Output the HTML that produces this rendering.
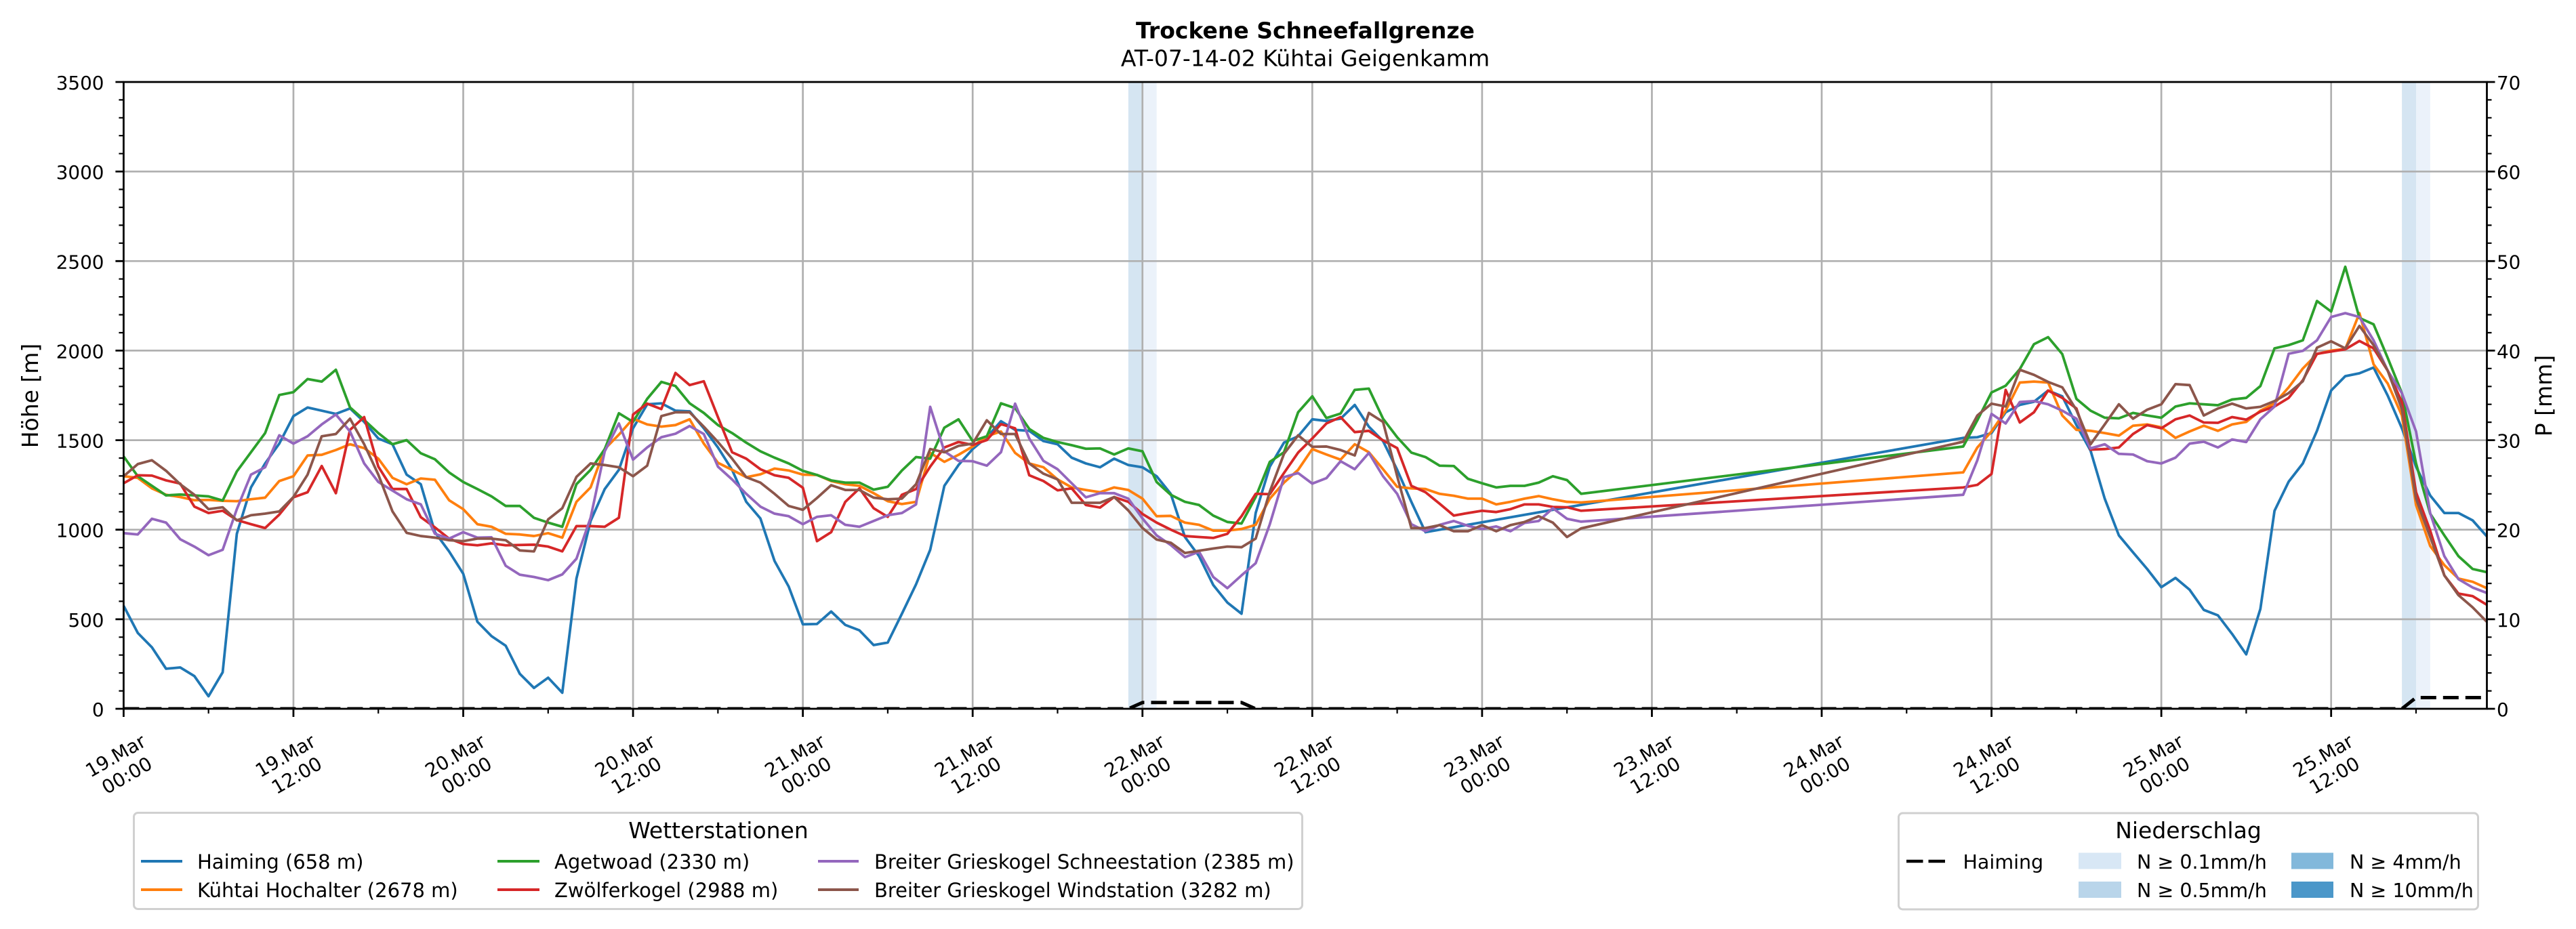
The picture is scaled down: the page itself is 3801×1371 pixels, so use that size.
<!DOCTYPE html>
<html><head><meta charset="utf-8">
<style>
html,body{margin:0;padding:0;background:#fff;width:3801px;height:1371px;overflow:hidden}
svg{display:block}
.d polyline{vector-effect:non-scaling-stroke;fill:none;stroke-width:3.8;stroke-linejoin:round}
text{font-family:"DejaVu Sans","Liberation Sans",sans-serif;fill:#000}
</style></head>
<body>
<svg xmlns="http://www.w3.org/2000/svg" width="3801" height="1371" viewBox="0 0 3801 1371">
<defs><clipPath id="pc"><rect x="182.4" y="121" width="3487.1" height="925"/></clipPath></defs>
<rect x="0" y="0" width="3801" height="1371" fill="#fff"/>

<!-- precipitation bands -->
<rect x="1664.9" y="121" width="20.9" height="925" fill="#d5e5f2"/>
<rect x="1685.8" y="121" width="20.9" height="925" fill="#ebf2fa"/>
<rect x="3544.1" y="121" width="20.9" height="925" fill="#d5e5f2"/>
<rect x="3565.0" y="121" width="20.9" height="925" fill="#ebf2fa"/>

<!-- grid -->
<g stroke="#b0b0b0" stroke-width="2.7" fill="none">
<path d="M182.4 913.9H3669.5M182.4 781.7H3669.5M182.4 649.6H3669.5M182.4 517.4H3669.5M182.4 385.3H3669.5M182.4 253.1H3669.5"/>
<path d="M432.96 121V1046M683.52 121V1046M934.08 121V1046M1184.64 121V1046M1435.2 121V1046M1685.76 121V1046M1936.32 121V1046M2186.88 121V1046M2437.44 121V1046M2688 121V1046M2938.56 121V1046M3189.12 121V1046M3439.68 121V1046"/>
</g>

<!-- data lines -->
<g class="d" transform="translate(182.4,330) scale(20.88,0.47192)">
<polyline stroke="#1f77b4" points="0,1195 1,1280 2,1325 3,1392 4,1388 5,1415 6,1478 7,1403 8,970 9,825 10,750 11,688 12,602 13,575 14,585 15,595 16,578 17,620 18,672 19,690 20,785 21,815 22,965 23,1025 24,1095 25,1245 26,1290 27,1320 28,1408 29,1452 30,1420 31,1467 32,1110 33,930 34,830 35,770 36,640 37,565 38,562 39,585 40,587 41,640 42,700 43,770 44,870 45,922 46,1055 47,1135 48,1253 49,1252 50,1213 51,1255 52,1272 53,1318 54,1310 55,1220 56,1128 57,1020 58,820 59,755 60,705 61,668 62,618 63,645 64,648 65,680 66,690 67,732 68,750 69,762 70,735 71,755 72,762 73,790 74,845 75,980 76,1040 77,1130 78,1185 79,1220 80,905 81,760 82,685 83,665 84,612 85,617 86,610 87,567 88,635 89,680 90,770 91,870 92,965 130,670 131,668 132,655 133,590 134,567 135,557 136,522 137,540 138,630 139,710 140,860 141,975 142,1028 143,1080 144,1137 145,1108 146,1145 147,1208 148,1225 149,1283 150,1347 151,1205 152,898 153,807 154,750 155,648 156,522 157,477 158,468 159,450 160,538 161,640 162,760 163,850 164,905 165,905 166,928 167,978"/>
<polyline stroke="#ff7f0e" points="0,790 1,795 2,828 3,848 4,855 5,865 6,864 7,867 8,868 9,862 10,857 11,805 12,790 13,725 14,723 15,708 16,690 17,702 18,735 19,795 20,815 21,797 22,801 23,865 24,893 25,940 26,948 27,970 28,972 29,977 30,968 31,982 32,870 33,825 34,705 35,660 36,610 37,628 38,635 39,630 40,612 41,688 42,748 43,770 44,793 45,784 46,766 47,772 48,785 49,786 50,805 51,815 52,820 53,843 54,868 55,877 56,870 57,717 58,745 59,723 60,697 61,665 62,650 63,717 64,750 65,762 66,800 67,825 68,833 69,840 70,825 71,833 72,860 73,915 74,914 75,935 76,942 77,960 78,960 79,955 80,942 81,860 82,810 83,770 84,705 85,722 86,738 87,690 88,715 89,768 90,823 91,828 92,830 93,845 94,851 95,860 96,860 97,878 98,870 99,860 100,852 101,862 102,870 103,872 130,778 131,700 132,650 133,585 134,497 135,494 136,497 137,600 138,645 139,648 140,655 141,663 142,632 143,628 144,637 145,670 146,650 147,632 148,648 149,628 150,620 151,585 152,562 153,512 154,453 155,408 156,397 157,392 158,280 159,440 160,500 161,600 162,880 163,1008 164,1068 165,1110 166,1120 167,1140"/>
<polyline stroke="#2ca02c" points="0,728 1,790 2,820 3,850 4,847 5,850 6,853 7,866 8,775 9,715 10,655 11,536 12,527 13,486 14,494 15,457 16,575 17,614 18,655 19,690 20,677 21,718 22,737 23,778 24,808 25,830 26,853 27,883 28,883 29,920 30,935 31,948 32,815 33,770 34,705 35,593 36,620 37,548 38,495 39,508 40,562 41,592 42,630 43,655 44,685 45,712 46,732 47,750 48,773 49,786 50,803 51,810 52,810 53,832 54,823 55,772 56,730 57,735 58,638 59,612 60,680 61,665 62,562 63,577 64,642 65,670 66,683 67,693 68,704 69,703 70,722 71,703 72,712 73,808 74,848 75,870 76,880 77,913 78,933 79,938 80,855 81,745 82,715 83,590 84,540 85,608 86,594 87,520 88,516 89,610 90,668 91,716 92,730 93,757 94,758 95,798 96,812 97,825 98,820 99,820 100,810 101,790 102,802 103,845 130,697 131,615 132,528 133,507 134,455 135,377 136,355 137,408 138,548 139,585 140,607 141,609 142,592 143,600 144,607 145,572 146,562 147,565 148,568 149,550 150,545 151,508 152,390 153,380 154,365 155,242 156,275 157,135 158,295 159,315 160,420 161,530 162,750 163,907 164,975 165,1040 166,1080 167,1090"/>
<polyline stroke="#d62728" points="0,812 1,787 2,788 3,803 4,813 5,885 6,905 7,898 8,927 9,940 10,952 11,910 12,856 13,840 14,758 15,843 16,645 17,605 18,760 19,830 20,830 21,918 22,950 23,985 24,1002 25,1006 26,1000 27,1006 28,1005 29,1004 30,1010 31,1025 32,946 33,946 34,948 35,920 36,597 37,563 38,580 39,467 40,505 41,493 42,605 43,715 44,735 45,768 46,787 47,795 48,826 49,993 50,965 51,870 52,828 53,890 54,917 55,848 56,830 57,760 58,700 59,683 60,692 61,677 62,627 63,640 64,787 65,805 66,834 67,828 68,880 69,888 70,855 71,870 72,908 73,935 74,957 75,977 76,980 77,983 78,970 79,915 80,845 81,846 82,780 83,716 84,672 85,625 86,605 87,652 88,648 89,678 90,702 91,820 92,840 93,876 94,913 95,905 96,898 97,902 98,893 99,878 100,878 101,886 102,887 103,898 130,825 131,817 132,783 133,520 134,622 135,590 136,522 137,545 138,578 139,707 140,705 141,700 142,658 143,630 144,640 145,612 146,600 147,622 148,623 149,605 150,613 151,588 152,572 153,545 154,490 155,407 156,400 157,393 158,367 159,390 160,460 161,558 162,840 163,960 164,1100 165,1157 166,1165 167,1192"/>
<polyline stroke="#9467bd" points="0,968 1,972 2,923 3,935 4,987 5,1010 6,1037 7,1020 8,893 9,785 10,762 11,662 12,688 13,665 14,628 15,597 16,650 17,750 18,808 19,835 20,862 21,878 22,970 23,985 24,965 25,982 26,981 27,1070 28,1098 29,1105 30,1115 31,1097 32,1048 33,920 34,712 35,625 36,738 37,700 38,668 39,657 40,633 41,658 42,760 43,800 44,845 45,885 46,907 47,915 48,940 49,917 50,912 51,942 52,948 53,930 54,912 55,905 56,878 57,573 58,712 59,742 60,743 61,757 62,715 63,563 64,672 65,742 66,768 67,812 68,856 69,843 70,843 71,860 72,922 73,975 74,1005 75,1043 76,1026 77,1105 78,1140 79,1100 80,1062 81,940 82,793 83,780 84,813 85,796 86,743 87,768 88,717 89,790 90,845 91,940 92,962 93,942 94,930 95,945 96,955 97,947 98,962 99,936 100,930 101,890 102,923 103,932 130,848 131,740 132,595 133,625 134,558 135,555 136,565 137,585 138,610 139,703 140,690 141,720 142,722 143,743 144,750 145,732 146,688 147,682 148,700 149,675 150,683 151,612 152,572 153,407 154,398 155,365 156,292 157,280 158,292 159,365 160,460 161,530 162,650 163,905 164,1040 165,1112 166,1138 167,1155"/>
<polyline stroke="#8c564b" points="0,790 1,752 2,740 3,773 4,815 5,848 6,893 7,887 8,928 9,912 10,907 11,900 12,855 13,785 14,665 15,658 16,610 17,690 18,785 19,900 20,967 21,977 22,982 23,990 24,993 25,985 26,985 27,990 28,1022 29,1025 30,925 31,890 32,792 33,750 34,755 35,762 36,790 37,757 38,602 39,590 40,590 41,635 42,683 43,735 44,793 45,810 46,845 47,883 48,895 49,858 50,818 51,833 52,833 53,857 54,862 55,860 56,815 57,705 58,715 59,695 60,688 61,615 62,658 63,658 64,750 65,782 66,800 67,873 68,873 69,873 70,855 71,897 72,952 73,988 74,998 75,1030 76,1023 77,1016 78,1010 79,1012 80,985 81,838 82,720 83,662 84,698 85,697 86,708 87,725 88,592 89,620 90,790 91,952 92,952 93,943 94,962 95,962 96,943 97,962 98,943 99,933 100,915 101,935 102,980 103,953 130,682 131,600 132,563 133,572 134,457 135,473 136,495 137,512 138,583 139,690 140,628 141,565 142,610 143,582 144,565 145,502 146,505 147,600 148,578 149,563 150,578 151,573 152,555 153,530 154,493 155,388 156,368 157,390 158,320 159,380 160,460 161,580 162,860 163,980 164,1100 165,1162 166,1200 167,1245"/>
</g>

<!-- Haiming precipitation (dashed) -->
<path clip-path="url(#pc)" d="M182.4 1046L1664.9 1046L1685.8 1036.8L1831.9 1036.8L1852.8 1046L3544.1 1046L3565 1029.5L3669.4 1029.5" fill="none" stroke="#000" stroke-width="5" stroke-dasharray="23 10"/>

<!-- spines -->
<rect x="182.4" y="121" width="3487.1" height="925" fill="none" stroke="#000" stroke-width="2.8"/>

<!-- ticks -->
<g stroke="#000" stroke-width="2.8" fill="none">
<path d="M170.4 1046h12M170.4 913.9h12M170.4 781.7h12M170.4 649.6h12M170.4 517.4h12M170.4 385.3h12M170.4 253.1h12M170.4 121h12"/>
<path d="M3669.5 1046h12M3669.5 913.9h12M3669.5 781.7h12M3669.5 649.6h12M3669.5 517.4h12M3669.5 385.3h12M3669.5 253.1h12M3669.5 121h12"/>
<path stroke-width="2.2" d="M175.4 1019.6h7M175.4 993.1h7M175.4 966.7h7M175.4 940.3h7M175.4 887.4h7M175.4 861h7M175.4 834.6h7M175.4 808.1h7M175.4 755.3h7M175.4 728.8h7M175.4 702.4h7M175.4 676h7M175.4 623.1h7M175.4 596.7h7M175.4 570.3h7M175.4 543.8h7M175.4 491h7M175.4 464.5h7M175.4 438.1h7M175.4 411.7h7M175.4 358.8h7M175.4 332.4h7M175.4 306h7M175.4 279.5h7M175.4 226.7h7M175.4 200.2h7M175.4 173.8h7M175.4 147.4h7"/>
<path stroke-width="2.2" d="M3669.5 1019.6h7M3669.5 993.1h7M3669.5 966.7h7M3669.5 940.3h7M3669.5 887.4h7M3669.5 861h7M3669.5 834.6h7M3669.5 808.1h7M3669.5 755.3h7M3669.5 728.8h7M3669.5 702.4h7M3669.5 676h7M3669.5 623.1h7M3669.5 596.7h7M3669.5 570.3h7M3669.5 543.8h7M3669.5 491h7M3669.5 464.5h7M3669.5 438.1h7M3669.5 411.7h7M3669.5 358.8h7M3669.5 332.4h7M3669.5 306h7M3669.5 279.5h7M3669.5 226.7h7M3669.5 200.2h7M3669.5 173.8h7M3669.5 147.4h7"/>
<path d="M182.4 1046v12M432.96 1046v12M683.52 1046v12M934.08 1046v12M1184.64 1046v12M1435.2 1046v12M1685.76 1046v12M1936.32 1046v12M2186.88 1046v12M2437.44 1046v12M2688 1046v12M2938.56 1046v12M3189.12 1046v12M3439.68 1046v12"/>
<path stroke-width="2.2" d="M307.68 1046v7M558.24 1046v7M808.8 1046v7M1059.36 1046v7M1309.92 1046v7M1560.48 1046v7M1811.04 1046v7M2061.6 1046v7M2312.16 1046v7M2562.72 1046v7M2813.28 1046v7M3063.84 1046v7M3314.4 1046v7M3564.96 1046v7"/>
</g>

<!-- left tick labels -->
<g font-size="27.8" text-anchor="end">
<text x="153.5" y="1057">0</text>
<text x="153.5" y="924.9">500</text>
<text x="153.5" y="792.7">1000</text>
<text x="153.5" y="660.6">1500</text>
<text x="153.5" y="528.4">2000</text>
<text x="153.5" y="396.3">2500</text>
<text x="153.5" y="264.1">3000</text>
<text x="153.5" y="132">3500</text>
</g>
<!-- right tick labels -->
<g font-size="27.8" text-anchor="start">
<text x="3684" y="1057">0</text>
<text x="3684" y="924.9">10</text>
<text x="3684" y="792.7">20</text>
<text x="3684" y="660.6">30</text>
<text x="3684" y="528.4">40</text>
<text x="3684" y="396.3">50</text>
<text x="3684" y="264.1">60</text>
<text x="3684" y="132">70</text>
</g>

<!-- x tick labels -->
<g font-size="27.8" text-anchor="middle">
<text transform="translate(178.4,1129) rotate(-30)"><tspan x="0" y="-6">19.Mar</tspan><tspan x="0" y="27.4">00:00</tspan></text>
<text transform="translate(428.96,1129) rotate(-30)"><tspan x="0" y="-6">19.Mar</tspan><tspan x="0" y="27.4">12:00</tspan></text>
<text transform="translate(679.52,1129) rotate(-30)"><tspan x="0" y="-6">20.Mar</tspan><tspan x="0" y="27.4">00:00</tspan></text>
<text transform="translate(930.08,1129) rotate(-30)"><tspan x="0" y="-6">20.Mar</tspan><tspan x="0" y="27.4">12:00</tspan></text>
<text transform="translate(1180.64,1129) rotate(-30)"><tspan x="0" y="-6">21.Mar</tspan><tspan x="0" y="27.4">00:00</tspan></text>
<text transform="translate(1431.2,1129) rotate(-30)"><tspan x="0" y="-6">21.Mar</tspan><tspan x="0" y="27.4">12:00</tspan></text>
<text transform="translate(1681.76,1129) rotate(-30)"><tspan x="0" y="-6">22.Mar</tspan><tspan x="0" y="27.4">00:00</tspan></text>
<text transform="translate(1932.32,1129) rotate(-30)"><tspan x="0" y="-6">22.Mar</tspan><tspan x="0" y="27.4">12:00</tspan></text>
<text transform="translate(2182.88,1129) rotate(-30)"><tspan x="0" y="-6">23.Mar</tspan><tspan x="0" y="27.4">00:00</tspan></text>
<text transform="translate(2433.44,1129) rotate(-30)"><tspan x="0" y="-6">23.Mar</tspan><tspan x="0" y="27.4">12:00</tspan></text>
<text transform="translate(2684,1129) rotate(-30)"><tspan x="0" y="-6">24.Mar</tspan><tspan x="0" y="27.4">00:00</tspan></text>
<text transform="translate(2934.56,1129) rotate(-30)"><tspan x="0" y="-6">24.Mar</tspan><tspan x="0" y="27.4">12:00</tspan></text>
<text transform="translate(3185.12,1129) rotate(-30)"><tspan x="0" y="-6">25.Mar</tspan><tspan x="0" y="27.4">00:00</tspan></text>
<text transform="translate(3435.68,1129) rotate(-30)"><tspan x="0" y="-6">25.Mar</tspan><tspan x="0" y="27.4">12:00</tspan></text>
</g>

<!-- axis labels -->
<text font-size="33" text-anchor="middle" transform="translate(56,584) rotate(-90)">Höhe [m]</text>
<text font-size="33" text-anchor="middle" transform="translate(3765,584) rotate(-90)">P [mm]</text>

<!-- titles -->
<text x="1926" y="56.7" font-size="33" font-weight="bold" text-anchor="middle">Trockene Schneefallgrenze</text>
<text x="1926" y="97.3" font-size="33" text-anchor="middle">AT-07-14-02 Kühtai Geigenkamm</text>

<!-- legend: Wetterstationen -->
<rect x="197.5" y="1199.5" width="1724" height="142" rx="6" ry="6" fill="#fff" stroke="#d0d0d0" stroke-width="3"/>
<text x="1060" y="1237" font-size="33" text-anchor="middle">Wetterstationen</text>
<g stroke-width="4">
<line x1="208" y1="1271" x2="269" y2="1271" stroke="#1f77b4"/>
<line x1="208" y1="1313" x2="269" y2="1313" stroke="#ff7f0e"/>
<line x1="734" y1="1271" x2="796" y2="1271" stroke="#2ca02c"/>
<line x1="734" y1="1313" x2="796" y2="1313" stroke="#d62728"/>
<line x1="1207" y1="1271" x2="1267" y2="1271" stroke="#9467bd"/>
<line x1="1207" y1="1313" x2="1267" y2="1313" stroke="#8c564b"/>
</g>
<g font-size="29">
<text x="291" y="1282">Haiming (658 m)</text>
<text x="291" y="1324">Kühtai Hochalter (2678 m)</text>
<text x="818" y="1282">Agetwoad (2330 m)</text>
<text x="818" y="1324">Zwölferkogel (2988 m)</text>
<text x="1290" y="1282">Breiter Grieskogel Schneestation (2385 m)</text>
<text x="1290" y="1324">Breiter Grieskogel Windstation (3282 m)</text>
</g>

<!-- legend: Niederschlag -->
<rect x="2801.5" y="1200" width="855" height="142" rx="6" ry="6" fill="#fff" stroke="#d0d0d0" stroke-width="3"/>
<text x="3229" y="1237" font-size="33" text-anchor="middle">Niederschlag</text>
<line x1="2813" y1="1271" x2="2870" y2="1271" stroke="#000" stroke-width="4.5" stroke-dasharray="24.5 8"/>
<rect x="3067" y="1258.5" width="63" height="24" fill="#d8e7f5"/>
<rect x="3067" y="1301" width="63" height="24" fill="#b9d5ea"/>
<rect x="3381" y="1258.5" width="62" height="24" fill="#82b8db"/>
<rect x="3381" y="1301" width="62" height="24" fill="#4b97c9"/>
<g font-size="28.5">
<text x="2896.5" y="1282">Haiming</text>
<text x="3153" y="1282">N ≥ 0.1mm/h</text>
<text x="3153" y="1324">N ≥ 0.5mm/h</text>
<text x="3467" y="1282">N ≥ 4mm/h</text>
<text x="3467" y="1324">N ≥ 10mm/h</text>
</g>
</svg>
</body></html>
